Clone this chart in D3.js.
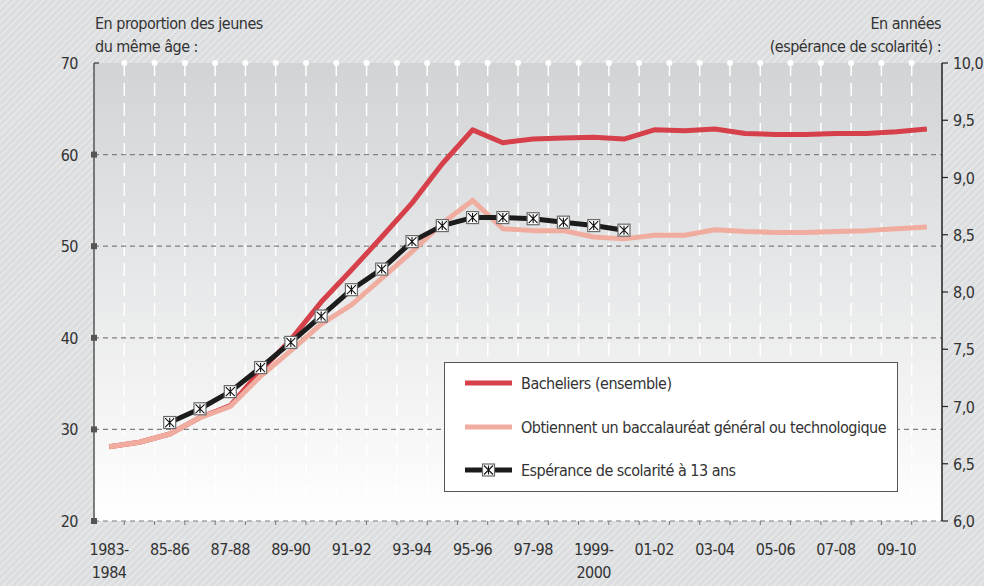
<!DOCTYPE html>
<html lang="fr">
  <head>
    <meta charset="utf-8">
    <title>Bacheliers et espérance de scolarité</title>
    <script src="https://d3js.org/d3.v7.js"></script>
    <style>
      body { margin: 0; }
      * { font-family: "Liberation Sans Narrow", "DejaVu Sans Condensed", sans-serif; }
      text { font-size: 16px; fill: #333; letter-spacing: -0.5px; }
    </style>
  </head>
  <body>
    <script type="text/javascript">
      // data
      var years = ["1983-1984", "84-85", "85-86", "86-87", "87-88", "88-89", "89-90", "90-91",
        "91-92", "92-93", "93-94", "94-95", "95-96", "96-97", "97-98", "98-99", "1999-2000",
        "00-01", "01-02", "02-03", "03-04", "04-05", "05-06", "06-07", "07-08", "08-09",
        "09-10", "10-11"];
      var tickYears = ["1983-1984", "85-86", "87-88", "89-90", "91-92", "93-94", "95-96",
        "97-98", "1999-2000", "01-02", "03-04", "05-06", "07-08", "09-10"];

      var bacheliers = [28.1, 28.6, 29.5, 31.3, 32.6, 36.4, 39.8, 43.9, 47.4, 51.0, 54.7,
        59.0, 62.7, 61.3, 61.7, 61.8, 61.9, 61.7, 62.7, 62.6, 62.8, 62.3, 62.2, 62.2, 62.3,
        62.3, 62.5, 62.8];
      var bacGenTech = [28.1, 28.6, 29.5, 31.3, 32.5, 35.8, 38.6, 41.5, 43.6, 46.5, 49.4,
        52.5, 55.0, 51.9, 51.7, 51.7, 51.0, 50.8, 51.2, 51.2, 51.8, 51.6, 51.5, 51.5, 51.6,
        51.7, 51.9, 52.1];
      var esperanceYears = ["85-86", "86-87", "87-88", "88-89", "89-90", "90-91", "91-92",
        "92-93", "93-94", "94-95", "95-96", "96-97", "97-98", "98-99", "1999-2000", "00-01"];
      var esperance = [6.86, 6.98, 7.13, 7.34, 7.56, 7.79, 8.02, 8.20, 8.44, 8.58, 8.65,
        8.65, 8.64, 8.61, 8.58, 8.54];

      var leftTicks = [20, 30, 40, 50, 60, 70];
      var rightTicks = [6.0, 6.5, 7.0, 7.5, 8.0, 8.5, 9.0, 9.5, 10.0];
      var legendLabels = ["Bacheliers (ensemble)",
        "Obtiennent un baccalauréat général ou technologique",
        "Espérance de scolarité à 13 ans"];

      var w = 984;
      var h = 586;
      var plot = {left: 94, right: 942, top: 63, bottom: 521};

      var red = "#d5404a";
      var pink = "#f0ad9f";
      var dark = "#1c1c1c";

      // scales
      var xScale = d3.scaleBand()
          .domain(years)
          .range([plot.left, plot.right]);

      var yLeft = d3.scaleLinear()
          .domain([20, 70])
          .range([plot.bottom, plot.top]);

      var yRight = d3.scaleLinear()
          .domain([6, 10])
          .range([plot.bottom, plot.top]);

      var xc = d => xScale(d) + xScale.bandwidth() / 2;

      var svg = d3.select("body")
          .append("svg")
          .attr("width", w)
          .attr("height", h);

      var defs = svg.append("defs");

      // hatched background
      var pat = defs.append("pattern")
          .attr("id", "hatch")
          .attr("width", 5)
          .attr("height", 5)
          .attr("patternUnits", "userSpaceOnUse")
          .attr("patternTransform", "rotate(45)");
      pat.append("rect").attr("width", 5).attr("height", 5).attr("fill", "#dcdddf");
      pat.append("rect").attr("width", 1.5).attr("height", 5).attr("fill", "#e8e9ea");

      var grad = defs.append("linearGradient")
          .attr("id", "plotGrad")
          .attr("x1", 0).attr("y1", 0).attr("x2", 0).attr("y2", 1);
      grad.append("stop").attr("offset", "0%").attr("stop-color", "#d2d3d5");
      grad.append("stop").attr("offset", "45%").attr("stop-color", "#e6e7e8");
      grad.append("stop").attr("offset", "100%").attr("stop-color", "#ffffff");

      svg.append("rect")
          .attr("width", w)
          .attr("height", h)
          .attr("fill", "url(#hatch)");

      // plot area
      svg.append("rect")
          .attr("x", plot.left)
          .attr("y", plot.top)
          .attr("width", plot.right - plot.left)
          .attr("height", plot.bottom - plot.top)
          .attr("fill", "url(#plotGrad)");

      // vertical white grid lines at band edges
      var edges = years.slice(1);
      svg.append("g")
          .selectAll("line")
          .data(edges)
          .enter().append("line")
          .attr("x1", d => xScale(d))
          .attr("x2", d => xScale(d))
          .attr("y1", plot.top)
          .attr("y2", plot.bottom)
          .attr("stroke", "#ffffff")
          .attr("stroke-width", 1.5)
          .attr("stroke-dasharray", "13,7");

      svg.append("g")
          .selectAll("circle")
          .data(edges)
          .enter().append("circle")
          .attr("cx", d => xScale(d))
          .attr("cy", plot.top)
          .attr("r", 3)
          .attr("fill", "#ffffff");

      // horizontal dashed grid lines
      svg.append("g")
          .selectAll("line")
          .data(leftTicks.filter(d => d < 70))
          .enter().append("line")
          .attr("x1", plot.left)
          .attr("x2", plot.right)
          .attr("y1", d => yLeft(d))
          .attr("y2", d => yLeft(d))
          .attr("stroke", "#7f7f7f")
          .attr("stroke-width", 1.2)
          .attr("stroke-dasharray", "5,4");

      // bottom ticks
      svg.append("g")
          .selectAll("line")
          .data(edges)
          .enter().append("line")
          .attr("x1", d => xScale(d))
          .attr("x2", d => xScale(d))
          .attr("y1", plot.bottom)
          .attr("y2", plot.bottom + 4)
          .attr("stroke", "#777")
          .attr("stroke-width", 1);

      // x labels
      var xLabels = svg.append("g")
          .selectAll("text")
          .data(tickYears)
          .enter().append("text")
          .attr("x", d => xc(d))
          .attr("y", 555)
          .attr("text-anchor", "middle");
      xLabels.each(function(d) {
        var t = d3.select(this);
        if (d.length > 5) {
          t.append("tspan").attr("x", xc(d)).text(d.slice(0, 5));
          t.append("tspan").attr("x", xc(d)).attr("dy", 23).text(d.slice(5));
        } else {
          t.text(d);
        }
      });

      // left axis
      svg.append("line")
          .attr("x1", plot.left).attr("x2", plot.left)
          .attr("y1", plot.top).attr("y2", plot.bottom)
          .attr("stroke", "#555").attr("stroke-width", 1.5);
      svg.append("line")
          .attr("x1", plot.left).attr("x2", plot.left + 5)
          .attr("y1", plot.top).attr("y2", plot.top)
          .attr("stroke", "#555").attr("stroke-width", 1.5);
      svg.append("g")
          .selectAll("rect")
          .data(leftTicks.filter(d => d < 70))
          .enter().append("rect")
          .attr("x", plot.left - 3)
          .attr("y", d => yLeft(d) - 3)
          .attr("width", 6)
          .attr("height", 6)
          .attr("fill", "#555");
      svg.append("g")
          .selectAll("text")
          .data(leftTicks)
          .enter().append("text")
          .attr("x", 78)
          .attr("y", d => yLeft(d) + 6)
          .attr("text-anchor", "end")
          .text(d => d);

      // right axis
      svg.append("line")
          .attr("x1", plot.right).attr("x2", plot.right)
          .attr("y1", plot.top).attr("y2", plot.bottom)
          .attr("stroke", "#222").attr("stroke-width", 1.5);
      svg.append("g")
          .selectAll("line")
          .data(rightTicks)
          .enter().append("line")
          .attr("x1", plot.right)
          .attr("x2", plot.right + 6)
          .attr("y1", d => yRight(d))
          .attr("y2", d => yRight(d))
          .attr("stroke", "#222")
          .attr("stroke-width", 1.2);
      svg.append("g")
          .selectAll("text")
          .data(rightTicks)
          .enter().append("text")
          .attr("x", 953)
          .attr("y", d => yRight(d) + 6)
          .text(d => d3.format(".1f")(d).replace(".", ","));

      // axis titles
      svg.append("text").attr("x", 95).attr("y", 29).text("En proportion des jeunes");
      svg.append("text").attr("x", 95).attr("y", 52).text("du même âge :");
      svg.append("text").attr("x", 941).attr("y", 29).attr("text-anchor", "end").text("En années");
      svg.append("text").attr("x", 941).attr("y", 52).attr("text-anchor", "end")
          .text("(espérance de scolarité) :");

      // lines
      var lineLeft = d3.line()
          .x((d, i) => xc(years[i]))
          .y(d => yLeft(d));

      svg.append("path")
          .datum(bacheliers)
          .attr("d", lineLeft)
          .attr("fill", "none")
          .attr("stroke", red)
          .attr("stroke-width", 5)
          .attr("stroke-linejoin", "round");

      svg.append("path")
          .datum(bacGenTech)
          .attr("d", lineLeft)
          .attr("fill", "none")
          .attr("stroke", pink)
          .attr("stroke-width", 5)
          .attr("stroke-linejoin", "round");

      var lineRight = d3.line()
          .x((d, i) => xc(esperanceYears[i]))
          .y(d => yRight(d));

      svg.append("path")
          .datum(esperance)
          .attr("d", lineRight)
          .attr("fill", "none")
          .attr("stroke", dark)
          .attr("stroke-width", 5)
          .attr("stroke-linejoin", "round");

      function drawMarker(g, cx, cy) {
        var s = 6;
        g.append("rect")
            .attr("x", cx - s).attr("y", cy - s)
            .attr("width", 2 * s).attr("height", 2 * s)
            .attr("fill", "#ffffff")
            .attr("stroke", "#6a6a6a")
            .attr("stroke-width", 1.2);
        g.append("path")
            .attr("d", `M${cx - s + 1.5},${cy - s + 1.5}L${cx + s - 1.5},${cy + s - 1.5}` +
                       `M${cx + s - 1.5},${cy - s + 1.5}L${cx - s + 1.5},${cy + s - 1.5}` +
                       `M${cx},${cy - s + 1.5}L${cx},${cy + s - 1.5}`)
            .attr("stroke", "#111")
            .attr("stroke-width", 1.1);
      }

      var markers = svg.append("g");
      esperance.forEach(function(d, i) {
        drawMarker(markers, xc(esperanceYears[i]), yRight(d));
      });

      // legend
      var legend = svg.append("g");
      legend.append("rect")
          .attr("x", 444.5).attr("y", 362.5)
          .attr("width", 453).attr("height", 129)
          .attr("fill", "#ffffff")
          .attr("stroke", "#555")
          .attr("stroke-width", 1);
      var legendColors = [red, pink, dark];
      var legendY = [383, 427, 470];
      legendLabels.forEach(function(d, i) {
        legend.append("line")
            .attr("x1", 465).attr("x2", 512)
            .attr("y1", legendY[i]).attr("y2", legendY[i])
            .attr("stroke", legendColors[i])
            .attr("stroke-width", 5);
        legend.append("text")
            .attr("x", 521)
            .attr("y", legendY[i] + 6)
            .text(d);
      });
      drawMarker(legend, 488.5, legendY[2]);
    </script>
  </body>
</html>
